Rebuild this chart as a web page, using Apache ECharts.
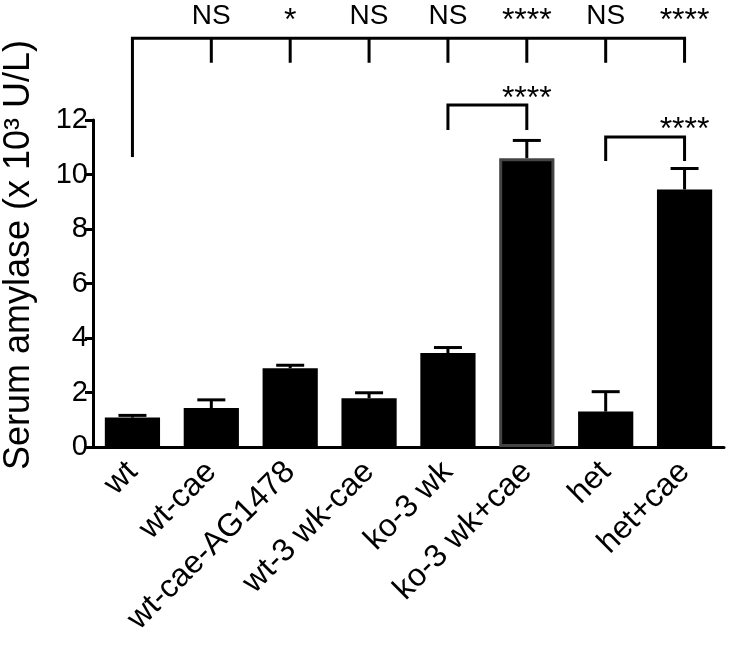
<!DOCTYPE html>
<html><head><meta charset="utf-8">
<script src="https://cdn.jsdelivr.net/npm/echarts@6/dist/echarts.min.js"></script>
<style>html,body{margin:0;padding:0;background:#fff}#c{width:733px;height:648px}</style>
</head><body><div id="c"></div>
<script>
const categories = ['wt','wt-cae','wt-cae-AG1478','wt-3 wk-cae','ko-3 wk','ko-3 wk+cae','het','het+cae'];
const means = [1.08, 1.43, 2.89, 1.79, 3.45, 10.6, 1.3, 9.45];
const errTops = [1.16, 1.73, 3.0, 1.99, 3.65, 11.25, 2.03, 10.22];
const yTicks = [0, 2, 4, 6, 8, 10, 12];
const sigVsWt = ['', 'NS', '*', 'NS', 'NS', '****', 'NS', '****'];
const pairs = [[4, 5, '****'], [6, 7, '****']];

const FONT = 'Liberation Sans';
const chart = echarts.init(document.getElementById('c'));

const errData = means.map((m, i) => [i, m, errTops[i]]);

// bracket levels (axis units)
const topLineY = 15.0, topLegY = 14.1, wtLegY = 10.64, nsLabelY = 15.82, starLabelY = 15.63;
const pairLevels = [[12.55, 11.63, 12.77], [11.38, 10.5, 11.63]];

chart.setOption({
  animation: false,
  grid: { left: 93, right: 9, top: 120, bottom: 201, containLabel: false },
  xAxis: {
    type: 'category', data: categories,
    axisLine: { lineStyle: { color: '#000', width: 3 } },
    axisTick: { show: false },
    axisLabel: { rotate: 45, interval: 0, fontSize: 32, fontFamily: FONT, color: '#000', margin: 20 }
  },
  yAxis: {
    type: 'value', min: yTicks[0], max: yTicks[yTicks.length - 1], interval: 2,
    axisLine: { show: true, lineStyle: { color: '#000', width: 3 } },
    axisTick: { show: true, length: 8, lineStyle: { color: '#000', width: 3 } },
    splitLine: { show: false },
    axisLabel: { fontSize: 29, fontFamily: FONT, color: '#000', margin: 5 }
  },
  graphic: [{
    type: 'text', x: 19, y: 255, rotation: Math.PI / 2,
    style: { text: 'Serum amylase (x 10³ U/L)', fontSize: 36, fontFamily: FONT, fill: '#000',
             align: 'center', verticalAlign: 'middle' }
  }],
  series: [
    {
      type: 'bar', barWidth: '70%',
      data: means.map((v, i) => i === 5
        ? { value: v, itemStyle: { color: '#000', borderColor: '#444', borderWidth: 3 } }
        : { value: v, itemStyle: { color: '#000' } }),
      z: 2
    },
    {
      type: 'custom', z: 3, clip: false,
      data: errData,
      renderItem: function (params, api) {
        const i = api.value(0);
        const p0 = api.coord([i, api.value(1)]);
        const p1 = api.coord([i, api.value(2)]);
        const hw = 14;
        return { type: 'group', children: [
          { type: 'line', shape: { x1: p0[0], y1: p0[1], x2: p1[0], y2: p1[1] }, style: { stroke: '#000', lineWidth: 3 } },
          { type: 'line', shape: { x1: p1[0] - hw, y1: p1[1], x2: p1[0] + hw, y2: p1[1] }, style: { stroke: '#000', lineWidth: 3 } }
        ]};
      }
    },
    {
      type: 'custom', z: 4, clip: false,
      data: [0],
      renderItem: function (params, api) {
        const children = [];
        const L = api.coord([0, topLineY]);
        const R = api.coord([categories.length - 1, topLineY]);
        children.push({ type: 'line', shape: { x1: L[0] - 1.5, y1: L[1], x2: R[0] + 1.5, y2: R[1] }, style: { stroke: '#000', lineWidth: 3 } });
        const wl = api.coord([0, wtLegY]);
        children.push({ type: 'line', shape: { x1: L[0], y1: L[1], x2: wl[0], y2: wl[1] }, style: { stroke: '#000', lineWidth: 3 } });
        for (let i = 1; i < categories.length; i++) {
          const a = api.coord([i, topLineY]);
          const b = api.coord([i, topLegY]);
          children.push({ type: 'line', shape: { x1: a[0], y1: a[1], x2: b[0], y2: b[1] }, style: { stroke: '#000', lineWidth: 3 } });
          const isStar = sigVsWt[i].indexOf('*') >= 0;
          const t = api.coord([i, isStar ? starLabelY : nsLabelY]);
          children.push({ type: 'text', x: t[0], y: t[1],
            style: { text: sigVsWt[i], fontSize: isStar ? 32 : 28, fontFamily: FONT, fill: '#000', align: 'center', verticalAlign: 'middle' } });
        }
        pairs.forEach((pr, k) => {
          const lv = pairLevels[k];
          const a0 = api.coord([pr[0], lv[0]]);
          const a1 = api.coord([pr[1], lv[0]]);
          const b0 = api.coord([pr[0], lv[1]]);
          const b1 = api.coord([pr[1], lv[1]]);
          children.push({ type: 'polyline', shape: { points: [b0, a0, a1, b1] }, style: { stroke: '#000', lineWidth: 3, fill: null } });
          const t = api.coord([(pr[0] + pr[1]) / 2, lv[2]]);
          children.push({ type: 'text', x: t[0], y: t[1],
            style: { text: pr[2], fontSize: 32, fontFamily: FONT, fill: '#000', align: 'center', verticalAlign: 'middle' } });
        });
        return { type: 'group', children: children };
      }
    }
  ]
});
</script></body></html>
